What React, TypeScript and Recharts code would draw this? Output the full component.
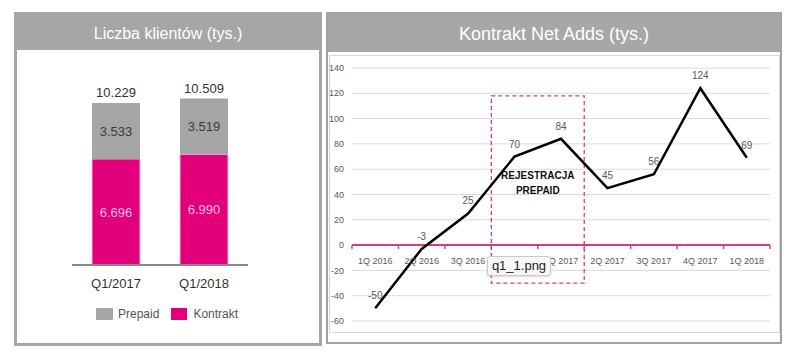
import React from "react";
import {
  BarChart,
  Bar,
  XAxis,
  YAxis,
  Legend,
  LabelList,
  LineChart,
  Line,
  CartesianGrid,
  ReferenceLine,
  ReferenceArea,
} from "recharts";

// lewy wykres - liczba klientów (tys.)
const periods = ["Q1/2017", "Q1/2018"];
const prepaid = [3533, 3519];
const kontrakt = [6696, 6990];
const totals = [10229, 10509];

// prawy wykres - kontrakt net adds (tys.)
const quarters = [
  "1Q 2016",
  "2Q 2016",
  "3Q 2016",
  "4Q 2016",
  "1Q 2017",
  "2Q 2017",
  "3Q 2017",
  "4Q 2017",
  "1Q 2018",
];
const netAdds = [-50, -3, 25, 70, 84, 45, 56, 124, 69];
const netTicks = [-60, -40, -20, 0, 20, 40, 60, 80, 100, 120, 140];

const barData = periods.map((p, i) => ({
  period: p,
  prepaid: prepaid[i],
  kontrakt: kontrakt[i],
  total: totals[i],
}));

const lineData = quarters.map((q, i) => ({ quarter: q, value: netAdds[i] }));

const MAGENTA = "#e2007a";
const AXIS_PINK = "#d23c8a";
const FONT = "'Liberation Sans', Arial, sans-serif";

const fmt = (v: any) => String(v).replace(/\B(?=(\d{3})+(?!\d))/g, ".");

// layout prawego wykresu
const R_W = 456;
const R_H = 290;
const R_MARGIN = { top: 16, right: 12, left: 6, bottom: 0 };
const R_YAXIS_W = 20;
const R_XAXIS_H = 21;
const R_PLOT_W = R_W - R_MARGIN.left - R_MARGIN.right - R_YAXIS_W;
const R_PLOT_H = R_H - R_MARGIN.top - R_MARGIN.bottom - R_XAXIS_H;
const Y_MIN = -60;
const Y_MAX = 140;
const ZERO_Y = R_MARGIN.top + (R_PLOT_H * Y_MAX) / (Y_MAX - Y_MIN);
const BAND = R_PLOT_W / quarters.length;

const QuarterTick = (props: any) => {
  const { x, index, payload } = props;
  const left = x - BAND / 2;
  const right = x + BAND / 2;
  return (
    <g>
      <line x1={left} x2={left} y1={ZERO_Y} y2={ZERO_Y + 4} stroke={AXIS_PINK} strokeWidth={1.5} />
      {index === quarters.length - 1 && (
        <line x1={right} x2={right} y1={ZERO_Y} y2={ZERO_Y + 4} stroke={AXIS_PINK} strokeWidth={1.5} />
      )}
      <text
        x={x}
        y={ZERO_Y + 16}
        dy="0.35em"
        textAnchor="middle"
        fontSize={9}
        fill="#595959"
        fontFamily={FONT}
      >
        {payload.value}
      </text>
    </g>
  );
};

const PrepaidNote = (props: any) => {
  const { x, y, width, height } = props.viewBox;
  const cx = x + width / 2;
  const cy = y + height / 2;
  return (
    <text
      x={cx}
      textAnchor="middle"
      fontSize={10}
      fontWeight="bold"
      fill="#111"
      fontFamily={FONT}
    >
      <tspan x={cx} y={cy - 14} dy="0.35em">REJESTRACJA</tspan>
      <tspan x={cx} y={cy + 1} dy="0.35em">PREPAID</tspan>
    </text>
  );
};

const BarLegend = () => (
  <div
    style={{
      height: 20,
      display: "flex",
      alignItems: "center",
      fontSize: 12,
      color: "#555",
      fontFamily: FONT,
    }}
  >
    <span style={{ width: 17, height: 12, background: "#a5a5a5", display: "inline-block" }} />
    <span style={{ marginLeft: 5 }}>Prepaid</span>
    <span
      style={{
        width: 16,
        height: 12,
        background: MAGENTA,
        display: "inline-block",
        marginLeft: 12,
      }}
    />
    <span style={{ marginLeft: 6 }}>Kontrakt</span>
  </div>
);

const App = () => {
  return (
    <div
      style={{
        position: "absolute",
        left: 0,
        top: 0,
        width: 800,
        height: 360,
        background: "#fff",
        fontFamily: FONT,
        overflow: "hidden",
      }}
    >
      {/* lewy panel */}
      <div
        style={{
          position: "absolute",
          left: 14,
          top: 12,
          width: 302,
          height: 328,
          border: "3px solid #a6a6a6",
          background: "#fff",
        }}
      >
        <div
          style={{
            height: 35,
            background: "#a6a6a6",
            color: "#fff",
            fontSize: 16,
            lineHeight: "37px",
            textAlign: "center",
          }}
        >
          Liczba klientów (tys.)
        </div>
      </div>
      <div style={{ position: "absolute", left: 17, top: 50 }}>
        <BarChart
          width={302}
          height={290}
          data={barData}
          margin={{ top: 25, right: 71, left: 55, bottom: 25 }}
        >
          <XAxis
            dataKey="period"
            axisLine={{ stroke: "#8a8a8a", strokeWidth: 2 }}
            tickLine={false}
            tickMargin={8}
            height={30}
            tick={{ fill: "#333", fontSize: 13 }}
          />
          <YAxis hide domain={[0, 12000]} />
          <Legend
            content={<BarLegend />}
            wrapperStyle={{ top: 254, left: 79, width: 180 }}
          />
          <Bar
            dataKey="kontrakt"
            stackId="a"
            fill={MAGENTA}
            stroke="#f7b6d9"
            strokeWidth={1}
            barSize={48}
            isAnimationActive={false}
          >
            <LabelList
              dataKey="kontrakt"
              position="center"
              fill="#ffbde6"
              fontSize={13}
              formatter={fmt}
            />
          </Bar>
          <Bar
            dataKey="prepaid"
            stackId="a"
            fill="#a5a5a5"
            barSize={48}
            isAnimationActive={false}
          >
            <LabelList
              dataKey="prepaid"
              position="center"
              fill="#3c3c3c"
              fontSize={13}
              formatter={fmt}
            />
            <LabelList
              dataKey="total"
              position="top"
              offset={6}
              fill="#333"
              fontSize={13}
              formatter={fmt}
            />
          </Bar>
        </BarChart>
      </div>

      {/* prawy panel */}
      <div
        style={{
          position: "absolute",
          left: 326,
          top: 12,
          width: 452,
          height: 328,
          border: "2px solid #a3a3a3",
          background: "#fff",
        }}
      >
        <div
          style={{
            height: 38,
            background: "#a7a7a7",
            color: "#fff",
            fontSize: 18,
            lineHeight: "40px",
            textAlign: "center",
          }}
        >
          Kontrakt Net Adds (tys.)
        </div>
        <div
          style={{
            position: "absolute",
            left: 1,
            top: 41,
            width: 449,
            height: 276,
            border: "1px solid #d6d6d6",
          }}
        />
      </div>
      <div style={{ position: "absolute", left: 326, top: 52 }}>
        <LineChart width={R_W} height={R_H} data={lineData} margin={R_MARGIN}>
          <CartesianGrid vertical={false} stroke="#dadada" />
          <XAxis
            dataKey="quarter"
            scale="band"
            height={R_XAXIS_H}
            axisLine={false}
            tickLine={false}
            interval={0}
            tick={<QuarterTick />}
          />
          <YAxis
            width={R_YAXIS_W}
            domain={[Y_MIN, Y_MAX]}
            ticks={netTicks}
            axisLine={false}
            tickLine={false}
            tick={{ fill: "#595959", fontSize: 9 }}
          />
          <ReferenceLine y={0} stroke={AXIS_PINK} strokeWidth={2} />
          <ReferenceArea
            x1="4Q 2016"
            x2="1Q 2017"
            y1={-30}
            y2={118}
            fill="none"
            stroke={AXIS_PINK}
            strokeWidth={1.3}
            strokeDasharray="4 3"
            label={(p: any) => <PrepaidNote {...p} />}
          />
          <Line
            dataKey="value"
            stroke="#000"
            strokeWidth={2.5}
            dot={false}
            isAnimationActive={false}
          >
            <LabelList
              dataKey="value"
              position="top"
              offset={9}
              fill="#595959"
              fontSize={10}
            />
          </Line>
        </LineChart>
      </div>

      {/* dymek z nazwą pliku */}
      <div
        style={{
          position: "absolute",
          left: 487,
          top: 256,
          width: 62,
          height: 18,
          background: "#f7f7f7",
          border: "1px solid #c9c9c9",
          borderRadius: 3,
          boxShadow: "0 1px 2px rgba(0,0,0,0.15)",
          fontSize: 13,
          lineHeight: "18px",
          textAlign: "center",
          color: "#222",
        }}
      >
        q1_1.png
      </div>
    </div>
  );
};

export default App;
